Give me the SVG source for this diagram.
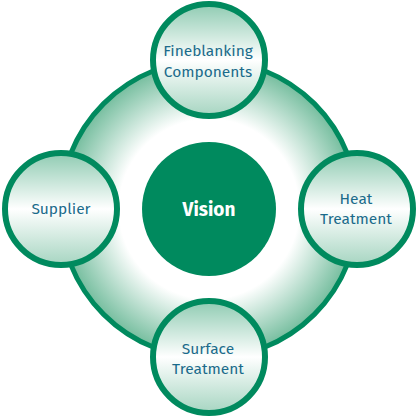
<svg xmlns="http://www.w3.org/2000/svg" width="417" height="417" viewBox="0 0 417 417">
<defs>
<radialGradient id="ringGrad" cx="209" cy="209" r="150" gradientUnits="userSpaceOnUse">
<stop offset="0" stop-color="#ffffff"/>
<stop offset="0.6" stop-color="#ffffff"/>
<stop offset="1" stop-color="#72bc9c"/>
</radialGradient>
<linearGradient id="satGrad" x1="0" y1="0" x2="0" y2="1">
<stop offset="0" stop-color="#8fcbb2"/>
<stop offset="0.5" stop-color="#ffffff"/>
<stop offset="1" stop-color="#a6d5c1"/>
</linearGradient>
<style>
.sat{fill:url(#satGrad);stroke:#008a5e;stroke-width:6}
.lbl{font-family:"Fira Sans","Open Sans","Noto Sans",sans-serif;font-size:15.5px;font-weight:normal;fill:#1b6b8b;text-anchor:middle}
.vis{font-family:"Fira Sans","Open Sans","Noto Sans",sans-serif;font-size:19px;font-weight:bold;fill:#ffffff;text-anchor:middle}
</style>
</defs>
<g id="connectors">
<circle id="ring" cx="209" cy="209" r="149" fill="url(#ringGrad)" stroke="#008a5e" stroke-width="5"/>
</g>
<g id="vision">
<circle cx="209" cy="209" r="67" fill="#008a5e"/>
<text class="vis" x="209" y="216">Vision</text>
</g>
<g id="fineblanking">
<circle class="sat" cx="209" cy="60" r="56"/>
<text class="lbl" x="208" y="56">Fineblanking</text>
<text class="lbl" x="208" y="77">Components</text>
</g>
<g id="supplier">
<circle class="sat" cx="61" cy="209" r="56"/>
<text class="lbl" x="61" y="214">Supplier</text>
</g>
<g id="heat">
<circle class="sat" cx="357" cy="209" r="56"/>
<text class="lbl" x="356" y="204">Heat</text>
<text class="lbl" x="356" y="224">Treatment</text>
</g>
<g id="surface">
<circle class="sat" cx="209" cy="357" r="56"/>
<text class="lbl" x="208" y="354">Surface</text>
<text class="lbl" x="208" y="374">Treatment</text>
</g>
</svg>
